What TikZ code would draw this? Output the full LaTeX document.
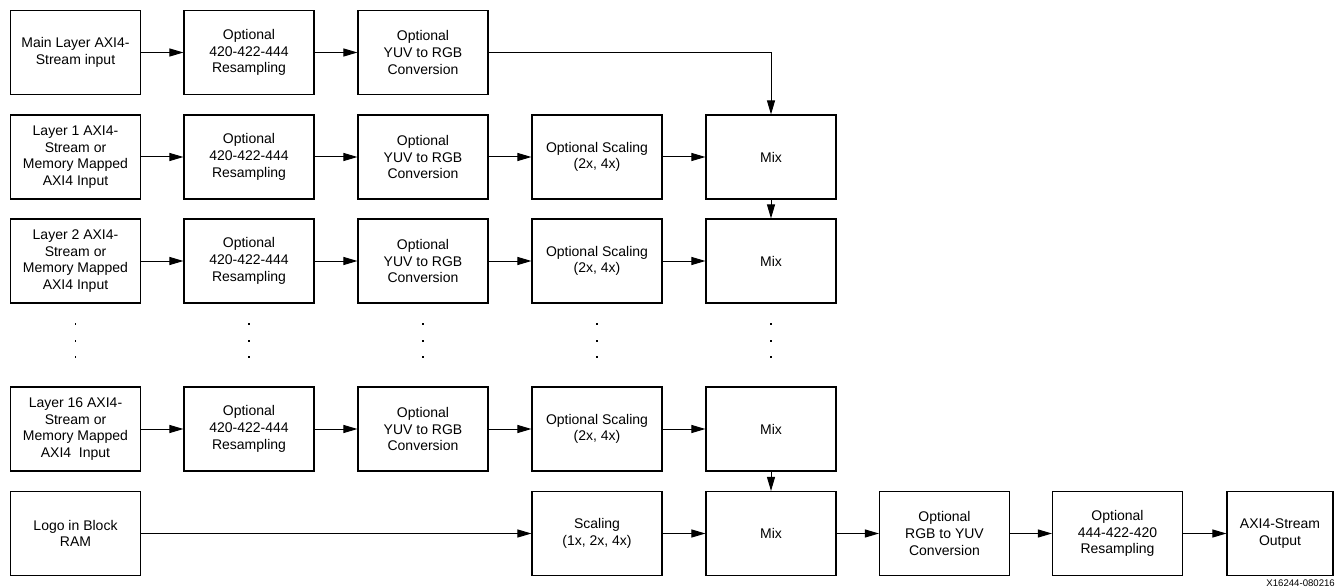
\documentclass[tikz,border=0pt]{standalone}
\usepackage{fontspec}
\setmainfont{Liberation Sans}
\usetikzlibrary{arrows.meta}
\begin{document}
\begin{tikzpicture}[x=1pt,y=-1pt,
  box/.style={draw, line width=1.1pt, minimum width=130pt, minimum height=84pt, inner sep=0pt, align=center, font=\fontsize{14}{16.7}\selectfont},
  arr/.style={line width=1pt, -{Triangle[length=14pt,width=8pt]}},
  dotmark/.style={fill=black}]
\useasboundingbox (0,0) rectangle (1337,588);

% column x: 75.5, 249, 423, 597, 771, 944.5, 1117.5, 1280
% row y: 52.5, 157, 261, 429, 533.5

% Main layer
\node[box] (r1c1) at (75.5,52.5) {Main Layer AXI4-\\Stream input};
\node[box] (r1c2) at (249,52.5) {Optional\\420-422-444\\Resampling};
\node[box] (r1c3) at (423,52.5) {Optional\\YUV to RGB\\Conversion};

% Layer 1
\node[box] (r2c1) at (75.5,157) {Layer 1 AXI4-\\Stream or\\Memory Mapped\\AXI4 Input};
\node[box] (r2c2) at (249,157) {Optional\\420-422-444\\Resampling};
\node[box] (r2c3) at (423,157) {Optional\\YUV to RGB\\Conversion};
\node[box] (r2c4) at (597,157) {Optional Scaling\\(2x, 4x)};
\node[box] (r2c5) at (771,157) {Mix};

% Layer 2
\node[box] (r3c1) at (75.5,261) {Layer 2 AXI4-\\Stream or\\Memory Mapped\\AXI4 Input};
\node[box] (r3c2) at (249,261) {Optional\\420-422-444\\Resampling};
\node[box] (r3c3) at (423,261) {Optional\\YUV to RGB\\Conversion};
\node[box] (r3c4) at (597,261) {Optional Scaling\\(2x, 4x)};
\node[box] (r3c5) at (771,261) {Mix};

% Layer 16
\node[box] (r16c1) at (75.5,429) {Layer 16 AXI4-\\Stream or\\Memory Mapped\\AXI4\ \ Input};
\node[box] (r16c2) at (249,429) {Optional\\420-422-444\\Resampling};
\node[box] (r16c3) at (423,429) {Optional\\YUV to RGB\\Conversion};
\node[box] (r16c4) at (597,429) {Optional Scaling\\(2x, 4x)};
\node[box] (r16c5) at (771,429) {Mix};

% Logo row
\node[box] (lc1) at (75.5,533.5) {Logo in Block\\RAM};
\node[box] (lc4) at (597,533.5) {Scaling\\(1x, 2x, 4x)};
\node[box] (lc5) at (771,533.5) {Mix};
\node[box] (lc6) at (944.5,533.5) {Optional\\RGB to YUV\\Conversion};
\node[box] (lc7) at (1117.5,533.5) {Optional\\444-422-420\\Resampling};
\node[box, minimum width=106pt] (lc8) at (1280,533.5) {AXI4-Stream\\Output};

% dots
\foreach \x in {75.5,249,423,597,771}{
  \foreach \y in {324,341,357}{
    \fill[dotmark] (\x-0.9,\y-0.9) rectangle (\x+0.9,\y+0.9);
  }
}

% connectors
\draw[arr] (r1c1) -- (r1c2);
\draw[arr] (r1c2) -- (r1c3);
\draw[arr] (r1c3.east) -| (r2c5.north);

\draw[arr] (r2c1) -- (r2c2);
\draw[arr] (r2c2) -- (r2c3);
\draw[arr] (r2c3) -- (r2c4);
\draw[arr] (r2c4) -- (r2c5);
\draw[arr] (r2c5) -- (r3c5);

\draw[arr] (r3c1) -- (r3c2);
\draw[arr] (r3c2) -- (r3c3);
\draw[arr] (r3c3) -- (r3c4);
\draw[arr] (r3c4) -- (r3c5);

\draw[arr] (r16c1) -- (r16c2);
\draw[arr] (r16c2) -- (r16c3);
\draw[arr] (r16c3) -- (r16c4);
\draw[arr] (r16c4) -- (r16c5);
\draw[arr] (r16c5) -- (lc5);

\draw[arr] (lc1) -- (lc4);
\draw[arr] (lc4) -- (lc5);
\draw[arr] (lc5) -- (lc6);
\draw[arr] (lc6) -- (lc7);
\draw[arr] (lc7) -- (lc8);

\node[anchor=base east, inner sep=0pt, font=\fontsize{9.6}{11}\selectfont] (fig) at (1335,586) {X16244-080216};
\end{tikzpicture}
\end{document}
